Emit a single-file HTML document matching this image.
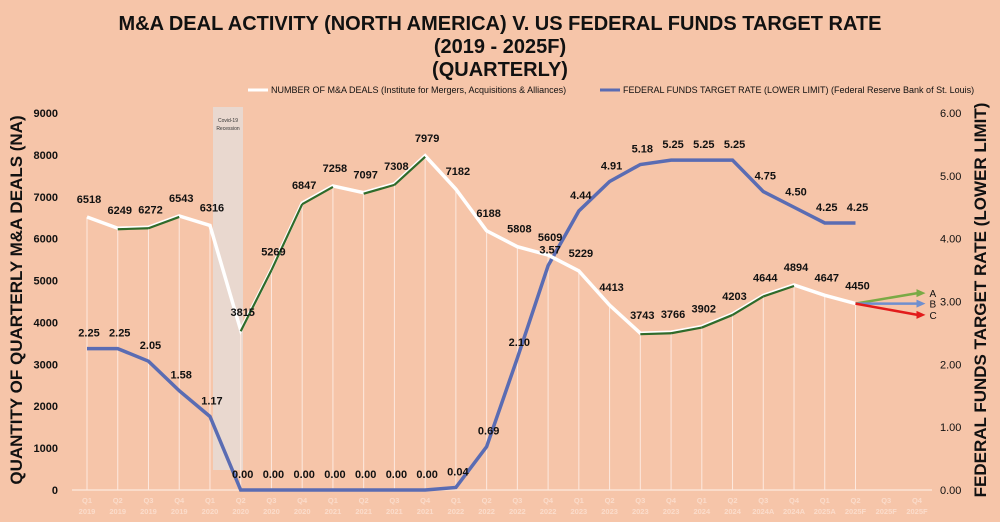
<!DOCTYPE html>
<html><head><meta charset="utf-8"><style>
body{margin:0;background:#f6c5a9;}
svg{display:block;font-family:"Liberation Sans",sans-serif;}
</style></head><body>
<svg id="c" width="1000" height="522">
<rect width="1000" height="522" fill="#f6c5a9"/>
<g font-weight="bold" font-size="20" text-anchor="middle" fill="#111">
<text x="500" y="30">M&amp;A DEAL ACTIVITY (NORTH AMERICA) V. US FEDERAL FUNDS TARGET RATE</text>
<text x="500" y="53">(2019 - 2025F)</text>
<text x="500" y="76">(QUARTERLY)</text>
</g>
<g font-size="9" fill="#111">
<line x1="248" y1="90" x2="268" y2="90" stroke="#fff" stroke-width="3"/>
<text x="271" y="93">NUMBER OF M&amp;A DEALS (Institute for Mergers, Acquisitions &amp; Alliances)</text>
<line x1="600" y1="90" x2="620" y2="90" stroke="#5a6cb3" stroke-width="3"/>
<text x="623" y="93">FEDERAL FUNDS TARGET RATE (LOWER LIMIT) (Federal Reserve Bank of St. Louis)</text>
</g>
<rect x="213" y="107" width="30" height="363" fill="#e6dcd8" opacity="0.8"/>
<text x="228" y="122" font-size="5" text-anchor="middle" fill="#333">Covid-19</text>
<text x="228" y="130" font-size="5" text-anchor="middle" fill="#333">Recession</text>
<text x="22" y="300" transform="rotate(-90 22 300)" font-size="17" font-weight="bold" text-anchor="middle" fill="#111">QUANTITY OF QUARTERLY M&amp;A DEALS (NA)</text>
<text x="986" y="300" transform="rotate(-90 986 300)" font-size="17" font-weight="bold" text-anchor="middle" fill="#111">FEDERAL FUNDS TARGET RATE (LOWER LIMIT)</text>
<g id="g"></g>
</svg>
<script>
const categories=["Q1|2019","Q2|2019","Q3|2019","Q4|2019","Q1|2020","Q2|2020","Q3|2020","Q4|2020","Q1|2021","Q2|2021","Q3|2021","Q4|2021","Q1|2022","Q2|2022","Q3|2022","Q4|2022","Q1|2023","Q2|2023","Q3|2023","Q4|2023","Q1|2024","Q2|2024","Q3|2024A","Q4|2024A","Q1|2025A","Q2|2025F","Q3|2025F","Q4|2025F"];
const deals=[6518,6249,6272,6543,6316,3815,5269,6847,7258,7097,7308,7979,7182,6188,5808,5609,5229,4413,3743,3766,3902,4203,4644,4894,4647,4450];
const rates=[2.25,2.25,2.05,1.58,1.17,0,0,0,0,0,0,0,0.04,0.69,2.10,3.57,4.44,4.91,5.18,5.25,5.25,5.25,4.75,4.50,4.25,4.25];
const leftTicks=[0,1000,2000,3000,4000,5000,6000,7000,8000,9000];
const rightTicks=["0.00","1.00","2.00","3.00","4.00","5.00","6.00"];
const scenarios=[["A",4700],["B",4450],["C",4180]];
const NS="http://www.w3.org/2000/svg",g=document.getElementById("g");
const X=i=>87+i*30.74, YL=v=>490-v*377/9000, YR=r=>490-r*377/6;
function el(t,a,txt){const e=document.createElementNS(NS,t);for(const k in a)e.setAttribute(k,a[k]);if(txt!=null)e.textContent=txt;g.appendChild(e);return e;}
let e=el("line",{x1:72,y1:490,x2:932,y2:490,stroke:"#fbe3d6","stroke-width":1.5});


leftTicks.forEach(v=>{const t=el("text",{x:58,y:YL(v)+4,"font-size":11,"font-weight":"bold","text-anchor":"end",fill:"#111"},String(v));

});
rightTicks.forEach(v=>{const t=el("text",{x:940,y:YR(+v)+4,"font-size":11,fill:"#111"},v);

});
categories.forEach((c,i)=>{const [q,y]=c.split("|");
const t=el("text",{x:X(i),y:503,"font-size":7.5,"font-weight":"bold","text-anchor":"middle",fill:"#fbdccb"},q);


el("text",{x:X(i),y:514,"font-size":7.5,"font-weight":"bold","text-anchor":"middle",fill:"#fbdccb"},y);});
deals.forEach((v,i)=>{const l=el("line",{x1:X(i),y1:YL(v),x2:X(i),y2:490,stroke:"#fde9df","stroke-width":1});

});
let p=el("polyline",{points:rates.map((r,i)=>X(i)+","+YR(r)).join(" "),fill:"none",stroke:"#5a6cb3","stroke-width":3.5});


let d=el("polyline",{points:deals.map((v,i)=>X(i)+","+YL(v)).join(" "),fill:"none",stroke:"#fff","stroke-width":3.5});


for(let i=0;i<deals.length-1;i++){if(deals[i+1]>deals[i]){const s=el("line",{x1:X(i),y1:YL(deals[i])+1,x2:X(i+1),y2:YL(deals[i+1])+1,stroke:"#2f6b2a","stroke-width":2.2});

}}
const colors={A:"#7aaa45",B:"#6f8fcf",C:"#e21b1b"};
const li=deals.length-1;
scenarios.forEach(([n,v])=>{const x2=X(li)+62,y2=YL(v);
const a=el("line",{x1:X(li),y1:YL(deals[li]),x2:x2,y2:y2,stroke:colors[n],"stroke-width":2.5});


el("polygon",{points:`${x2+8},${y2} ${x2-1},${y2-4} ${x2-1},${y2+4}`,fill:colors[n]});
el("text",{x:x2+12,y:y2+4,"font-size":10,fill:"#111"},n);});
deals.forEach((v,i)=>{const t=el("text",{x:X(i)+2,y:YL(v)-14,"font-size":11,"font-weight":"bold","text-anchor":"middle",fill:"#111"},String(v));

});
rates.forEach((r,i)=>{const t=el("text",{x:X(i)+2,y:YR(r)-12,"font-size":11,"font-weight":"bold","text-anchor":"middle",fill:"#111"},r.toFixed(2));

});
</script>
</body></html>
